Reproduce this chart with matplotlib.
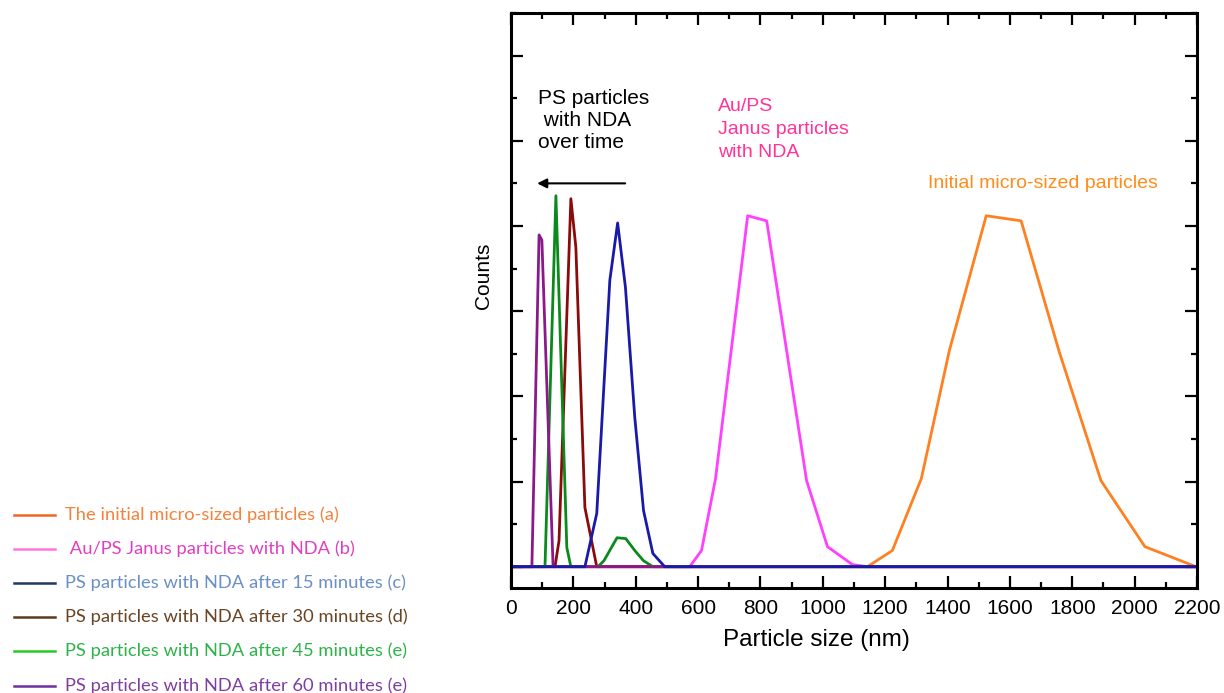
import matplotlib
matplotlib.use("Agg")
import matplotlib.pyplot as plt
from matplotlib.lines import Line2D
from matplotlib.ticker import MultipleLocator

# ---- data (particle size in nm, counts in arbitrary units) ----
x_initial = [0, 1143, 1223, 1316, 1406, 1524, 1636, 1758, 1892, 2033, 2197]
y_initial = [0, 0, 0.38, 2.07, 5.08, 8.24, 8.12, 5.05, 2.02, 0.47, 0]

x_janus = [0, 573, 611, 656, 759, 820, 948, 1015, 1095, 1143, 2200]
y_janus = [0, 0, 0.38, 2.07, 8.24, 8.12, 2.02, 0.47, 0.05, 0, 0]

x_15 = [0, 237, 275, 317, 342, 367, 397, 425, 455, 493, 2200]
y_15 = [0, 0, 1.25, 6.73, 8.07, 6.56, 3.5, 1.32, 0.31, 0, 0]

x_30 = [0, 141, 154, 192, 208, 237, 275, 2200]
y_30 = [0, 0, 0.61, 8.64, 7.5, 1.39, 0, 0]

x_45 = [0, 109, 144, 179, 192, 279, 298, 340, 368, 397, 425, 455, 2200]
y_45 = [0, 0, 8.71, 0.45, 0, 0, 0.14, 0.68, 0.66, 0.38, 0.14, 0, 0]

x_60 = [0, 67, 90, 99, 135, 2200]
y_60 = [0, 0, 7.79, 7.67, 0, 0]

legend_labels = [
    "The initial micro-sized particles (a)",
    " Au/PS Janus particles with NDA (b)",
    "PS particles with NDA after 15 minutes (c)",
    "PS particles with NDA after 30 minutes (d)",
    "PS particles with NDA after 45 minutes (e)",
    "PS particles with NDA after 60 minutes (e)",
]
x_ticks = list(range(0, 2201, 200))

# ---- styling ----
c_initial = "#FF8020"
c_janus = "#FF40FF"
c_15 = "#1A1AA8"
c_30 = "#8B0A0A"
c_45 = "#0A8A1A"
c_60 = "#8A1A8A"

leg_line_colors = ["#F26522", "#FF77DD", "#1F3864", "#5A3A1F", "#22CC22", "#7030A0"]
leg_text_colors = ["#F4823A", "#E040C0", "#6A8FC8", "#6B4423", "#2DB34A", "#7F3FA0"]

fig = plt.figure(figsize=(12.24, 6.93), dpi=100)
ax = fig.add_axes([511/1224, 1-588/693, (1197-511)/1224, (588-13)/693])

lw = 2.0
ax.plot(x_initial, y_initial, color=c_initial, lw=lw)
ax.plot(x_janus, y_janus, color=c_janus, lw=lw)
ax.plot(x_30, y_30, color=c_30, lw=lw)
ax.plot(x_45, y_45, color=c_45, lw=lw)
ax.plot(x_60, y_60, color=c_60, lw=lw)
ax.plot(x_15, y_15, color=c_15, lw=lw)

ax.set_xlim(0, 2200)
ax.set_ylim(-0.5, 13.0)
ax.set_xticks(x_ticks)
ax.xaxis.set_minor_locator(MultipleLocator(100))
ax.yaxis.set_major_locator(MultipleLocator(2))
ax.yaxis.set_minor_locator(MultipleLocator(1))
ax.tick_params(axis="both", which="both", direction="in", top=True, right=True, width=1.6)
ax.tick_params(axis="both", which="major", length=8.5)
ax.tick_params(axis="both", which="minor", length=4.5)
ax.tick_params(axis="y", which="both", labelleft=False)
ax.tick_params(axis="x", which="major", labelsize=15, pad=8)
for lab in ax.get_xticklabels():
    lab.set_fontfamily("Liberation Sans")
for s in ax.spines.values():
    s.set_linewidth(2.2)

ax.set_xlabel("Particle size (nm)", fontsize=17.5, family="Liberation Sans")
ax.xaxis.set_label_coords((816-511)/686, -(629-588)/575, transform=ax.transAxes)
ax.set_ylabel("Counts", fontsize=15, family="Liberation Sans")
ax.yaxis.set_label_coords(-(511-493)/686, (588-276)/575, transform=ax.transAxes)

# annotations
ax.text(85, 10.47, "PS particles\n with NDA\nover time", fontsize=15,
        family="Liberation Sans", color="black", ha="left", va="center", linespacing=1.2)
ax.annotate("", xy=(75, 9.0), xytext=(375, 9.0),
            arrowprops=dict(arrowstyle="-|>", color="black", lw=1.5, mutation_scale=14))
ax.text(665, 10.26, "Au/PS\nJanus particles\nwith NDA", fontsize=14, family="Liberation Sans",
        color="#FF3399", ha="left", va="center", linespacing=1.47)
ax.text(1337, 9.0, "Initial micro-sized particles", fontsize=14, family="Liberation Sans",
        color="#FF8C1A", ha="left", va="center")

# legend drawn at the left of the figure
ys = [515, 549, 583, 617, 651, 686]
for yy, lc, tc, lab in zip(ys, leg_line_colors, leg_text_colors, legend_labels):
    fy = 1 - yy/693
    fig.add_artist(Line2D([14/1224, 55/1224], [fy, fy], color=lc, lw=1.8, transform=fig.transFigure))
    fig.text(65/1224, fy, lab, color=tc, fontsize=13.2, family="Lato", ha="left", va="center")

fig.savefig("out.png", dpi=100)
